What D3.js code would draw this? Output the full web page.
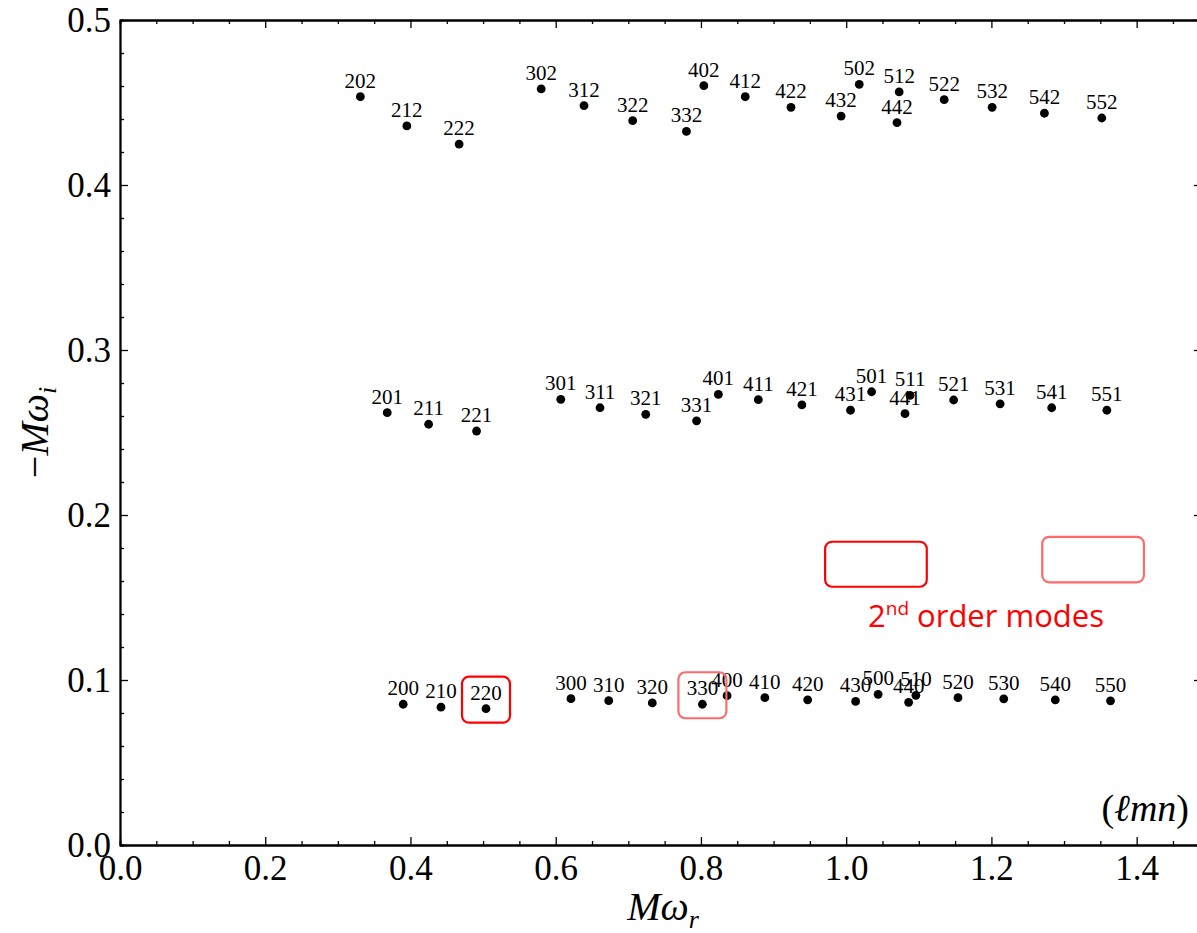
<!DOCTYPE html>
<html>
<head>
<meta charset="utf-8">
<script src="https://cdn.jsdelivr.net/npm/d3@7"></script>
<style>
  body { margin: 0; background: #fff; }
  svg { display: block; }
</style>
</head>
<body>
<svg id="chart" width="1197" height="933"></svg>
<script>
// quasinormal mode frequencies, labelled (l m n)
const labelsN0 = ["200","210","220","300","310","320","330","400","410","420","430","440","500","510","520","530","540","550"];
const wrN0 = [0.390,0.442,0.504,0.621,0.673,0.733,0.802,0.836,0.888,0.947,1.013,1.086,1.044,1.096,1.154,1.217,1.288,1.364];
const wiN0 = [0.0853,0.0835,0.0826,0.0887,0.0875,0.0861,0.0853,0.0905,0.0893,0.0880,0.0870,0.0865,0.0913,0.0907,0.0893,0.0886,0.0879,0.0874];

const labelsN1 = ["201","211","221","301","311","321","331","401","411","421","431","441","501","511","521","531","541","551"];
const wrN1 = [0.368,0.425,0.491,0.607,0.661,0.724,0.794,0.824,0.879,0.939,1.006,1.081,1.035,1.088,1.148,1.212,1.283,1.359];
const wiN1 = [0.2620,0.2550,0.2509,0.2701,0.2650,0.2610,0.2571,0.2731,0.2699,0.2667,0.2635,0.2614,0.2747,0.2725,0.2697,0.2674,0.2650,0.2635];

const labelsN2 = ["202","212","222","302","312","322","332","402","412","422","432","442","502","512","522","532","542","552"];
const wrN2 = [0.331,0.395,0.467,0.580,0.639,0.706,0.780,0.804,0.861,0.924,0.993,1.070,1.018,1.073,1.135,1.201,1.273,1.352];
const wiN2 = [0.4535,0.4358,0.4248,0.4582,0.4481,0.4390,0.4325,0.4602,0.4535,0.4471,0.4418,0.4378,0.4610,0.4564,0.4517,0.4471,0.4435,0.4406];

const xTicks = [0.0,0.2,0.4,0.6,0.8,1.0,1.2,1.4];
const yTicks = [0.0,0.1,0.2,0.3,0.4,0.5];

// modes boxed in red, and the legend boxes (data units)
const boxedModes = ["220","330"];
const boxColors = ["#ff0000","#ff6a6a"];
const legendBoxes = [[0.971,1.111,0.1838,0.1565],[1.270,1.410,0.1868,0.1592]];

const svg = d3.select("#chart");
const margin = {left:120, top:20};
const plotW = 1082, plotH = 825;

const x = d3.scaleLinear().domain([0,1.49]).range([margin.left, margin.left+plotW]);
const y = d3.scaleLinear().domain([0,0.5]).range([margin.top+plotH, margin.top]);

const serif = "'Liberation Serif', 'DejaVu Serif', serif";

// minor ticks
const xMinor = d3.range(0, 1.49, 0.05).filter(v => Math.abs(v/0.2 - Math.round(v/0.2)) > 1e-6);
const yMinor = d3.range(0, 0.5, 0.02).filter(v => Math.abs(v/0.1 - Math.round(v/0.1)) > 1e-6);

function styleAxis(g) {
  g.selectAll("path.domain").attr("stroke","#000").attr("stroke-width",1.8);
  g.selectAll(".tick line").attr("stroke","#000").attr("stroke-width",1.3);
  g.selectAll(".tick text").attr("font-family",serif).attr("font-size",35).attr("fill","#000");
}

const bottom = margin.top + plotH, right = margin.left + plotW;

svg.append("g").attr("transform",`translate(0,${bottom})`)
  .call(d3.axisBottom(x).tickValues(xMinor).tickSize(-4).tickFormat(""))
  .call(styleAxis);
svg.append("g").attr("transform",`translate(0,${bottom})`)
  .call(d3.axisBottom(x).tickValues(xTicks).tickSize(-8).tickSizeOuter(0).tickPadding(10).tickFormat(d3.format(".1f")))
  .call(styleAxis);
svg.append("g").attr("transform",`translate(0,${margin.top})`)
  .call(d3.axisTop(x).tickValues(xMinor).tickSize(-4).tickFormat(""))
  .call(styleAxis);
svg.append("g").attr("transform",`translate(0,${margin.top})`)
  .call(d3.axisTop(x).tickValues(xTicks).tickSize(-8).tickSizeOuter(0).tickFormat(""))
  .call(styleAxis);
svg.append("g").attr("transform",`translate(${margin.left},0)`)
  .call(d3.axisLeft(y).tickValues(yMinor).tickSize(-4).tickFormat(""))
  .call(styleAxis);
svg.append("g").attr("transform",`translate(${margin.left},0)`)
  .call(d3.axisLeft(y).tickValues(yTicks).tickSize(-8).tickSizeOuter(0).tickPadding(9).tickFormat(d3.format(".1f")))
  .call(styleAxis);
svg.append("g").attr("transform",`translate(${right},0)`)
  .call(d3.axisRight(y).tickValues(yTicks).tickSize(-8).tickSizeOuter(0).tickFormat(""))
  .call(styleAxis);

// points + labels
const groups = [
  {labels: labelsN0, wr: wrN0, wi: wiN0},
  {labels: labelsN1, wr: wrN1, wi: wiN1},
  {labels: labelsN2, wr: wrN2, wi: wiN2}
];
const pts = groups.flatMap(g => g.labels.map((l,i) => ({label:l, wr:g.wr[i], wi:g.wi[i]})));

const marks = svg.append("g");
marks.selectAll("circle").data(pts).enter().append("circle")
  .attr("cx", d => x(d.wr)).attr("cy", d => y(d.wi)).attr("r", 4.4).attr("fill","#000");
marks.selectAll("text").data(pts).enter().append("text")
  .attr("x", d => x(d.wr)).attr("y", d => y(d.wi) - 9)
  .attr("text-anchor","middle")
  .attr("font-family",serif).attr("font-size",21)
  .text(d => d.label);

// red boxes round the chosen modes
const boxed = pts.filter(d => boxedModes.includes(d.label));
svg.append("g").selectAll("rect").data(boxed).enter().append("rect")
  .attr("x", d => x(d.wr) - 24).attr("y", d => y(d.wi) - 32)
  .attr("width", 48).attr("height", 46).attr("rx", 7)
  .attr("fill","none").attr("stroke",(d,i) => boxColors[i]).attr("stroke-width",2.2);

// legend boxes
svg.append("g").selectAll("rect").data(legendBoxes).enter().append("rect")
  .attr("x", d => x(d[0])).attr("y", d => y(d[2]))
  .attr("width", d => x(d[1]) - x(d[0])).attr("height", d => y(d[3]) - y(d[2]))
  .attr("rx", 7).attr("fill","none")
  .attr("stroke",(d,i) => boxColors[i]).attr("stroke-width",2.2);

const leg = svg.append("text").attr("x", 868).attr("y", 627)
  .attr("font-family","'Open Sans', 'Noto Sans', sans-serif").attr("font-size",31).attr("fill","#ff0000");
leg.append("tspan").text("2");
leg.append("tspan").attr("font-size",19).attr("dy",-12).text("nd");
leg.append("tspan").attr("dy",12).text(" order modes");

// (lmn) label
const lmn = svg.append("text").attr("x", 1189).attr("y", 821).attr("text-anchor","end")
  .attr("font-family",serif).attr("font-size",38);
lmn.append("tspan").text("(");
lmn.append("tspan").attr("font-style","italic").text("ℓmn");
lmn.append("tspan").text(")");

// axis titles
const xt = svg.append("text").attr("x", 663).attr("y", 920).attr("text-anchor","middle")
  .attr("font-family",serif).attr("font-size",40).attr("font-style","italic");
xt.append("tspan").text("Mω");
xt.append("tspan").attr("font-size",26).attr("dy",8).text("r");

const yt = svg.append("text").attr("transform",`translate(48,${(margin.top+bottom)/2}) rotate(-90)`)
  .attr("text-anchor","middle").attr("font-family",serif).attr("font-size",40);
yt.append("tspan").text("−");
yt.append("tspan").attr("font-style","italic").text("Mω");
yt.append("tspan").attr("font-style","italic").attr("font-size",26).attr("dy",8).text("i");
</script>
</body>
</html>
